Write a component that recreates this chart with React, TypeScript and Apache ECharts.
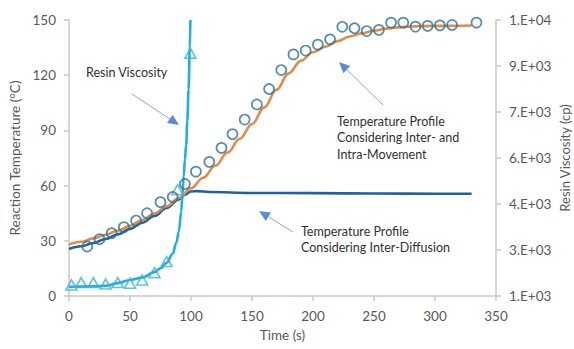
import React, { useEffect, useRef } from "react";
import * as echarts from "echarts";

// Resin viscosity model curve (time s, viscosity cp)
const viscCurveT = [0, 10, 20, 30, 40, 50, 60, 70, 75, 80, 85, 88, 90, 92, 93, 94, 95, 96, 97, 98, 99, 99.5];
const viscCurveV = [1300, 1312, 1318, 1330, 1420, 1522, 1600, 1780, 1900, 2080, 2380, 2740, 3100, 3760, 4300, 4900, 5440, 5920, 6700, 7720, 9100, 10000];

// Resin viscosity measured (triangles)
const viscPtsT = [2, 10, 20, 30, 40, 50, 60, 70, 80, 89, 99.5];
const viscPtsV = [1360, 1438, 1438, 1390, 1438, 1414, 1522, 1762, 2122, 4468, 8920];

// Temperature profile considering inter- and intra-movement (orange)
const intraT = [0, 10, 20, 30, 40, 50, 60, 70, 80, 90, 100, 110, 120, 130, 140, 150, 160, 170, 180, 190, 200, 210, 220, 230, 240, 250, 260, 270, 280, 300, 330];
const intraV = [28, 29.5, 31.3, 33.3, 35.5, 38.2, 41.3, 44.8, 48.8, 53.2, 58.5, 64.3, 70.8, 78, 85.5, 93.5, 102.5, 112, 121, 127.8, 132.5, 135.5, 138.5, 141, 142.8, 144.2, 145.3, 146, 146.5, 146.8, 147];

// Temperature profile considering inter-diffusion (dark blue)
const diffT = [0, 10, 20, 30, 40, 50, 60, 70, 80, 90, 95, 100, 105, 115, 150, 200, 250, 300, 330];
const diffV = [25.5, 27, 28.8, 31, 33.5, 36.5, 39.8, 43.5, 47.8, 52.5, 55, 56.8, 57, 56.5, 56, 55.9, 55.7, 55.6, 55.6];

// Measured reaction temperature (circles)
const tempPtsT = [15, 25, 35, 45, 55, 64, 75, 85, 95, 104, 115, 125, 134, 144, 154, 164, 174, 184, 194, 204, 214, 224, 234, 244, 254, 264, 274, 284, 294, 304, 314, 334];
const tempPtsV = [26.9, 30.9, 34.2, 37.4, 41, 45, 51, 53.8, 60.9, 67.6, 72.9, 80.5, 88, 95.9, 104.1, 112.5, 122.8, 131.3, 133.4, 136.6, 139.5, 146.3, 145.5, 144, 144.6, 148.6, 148.6, 146.4, 146.8, 147.1, 147.3, 148.6];

// Right axis ticks
const rightTickValues = [1000, 2500, 4000, 5500, 7000, 8500, 10000];
const rightTickLabels = ["1.E+03", "3.E+03", "4.E+03", "6.E+03", "7.E+03", "9.E+03", "1.E+04"];

const FONT = "Lato";
const LABEL_COLOR = "#595959";
const AXIS_COLOR = "#c8c8c8";

function zip(t: number[], v: number[]) {
  return t.map((x, i) => [x, v[i]]);
}

function arrow(x1: number, y1: number, x2: number, y2: number) {
  const dx = x2 - x1;
  const dy = y2 - y1;
  const len = Math.sqrt(dx * dx + dy * dy);
  const ux = dx / len;
  const uy = dy / len;
  const headL = 11;
  const headW = 5;
  const bx = x2 - ux * headL;
  const by = y2 - uy * headL;
  const px = -uy * headW;
  const py = ux * headW;
  return [
    {
      type: "line",
      shape: { x1, y1, x2: bx, y2: by },
      style: { stroke: "#8ea9cc", lineWidth: 1 },
    },
    {
      type: "polygon",
      shape: { points: [[x2, y2], [bx + px, by + py], [bx - px, by - py]] },
      style: { fill: "#5b8ed0" },
    },
  ];
}

function annText(x: number, y: number, text: string) {
  return {
    type: "text",
    x,
    y,
    style: {
      text,
      fill: "#303030",
      font: `12.5px ${FONT}`,
      lineHeight: 16.6,
      align: "left",
      verticalAlign: "top",
    },
  };
}

export default function App() {
  const ref = useRef<HTMLDivElement>(null);

  useEffect(() => {
    if (!ref.current) return;
    const chart = echarts.init(ref.current, undefined, { renderer: "svg" });
    const option: any = {
      animation: false,
      backgroundColor: "#ffffff",
      grid: { left: 69, right: 78, top: 20, bottom: 53, containLabel: false, outerBoundsMode: "none" },
      xAxis: {
        type: "value",
        min: 0,
        max: 350,
        interval: 50,
        name: "Time (s)",
        nameLocation: "middle",
        nameGap: 28,
        nameTextStyle: { color: LABEL_COLOR, fontFamily: FONT, fontSize: 13.5 },
        axisLine: { show: true, lineStyle: { color: AXIS_COLOR, width: 1.5 } },
        axisTick: { show: true, length: 5, lineStyle: { color: AXIS_COLOR, width: 1.5 } },
        axisLabel: { color: LABEL_COLOR, fontFamily: FONT, fontSize: 13.5, margin: 13 },
        splitLine: { show: false },
      },
      yAxis: [
        {
          type: "value",
          min: 0,
          max: 150,
          interval: 30,
          name: "Reaction Temperature (\u00B0C)",
          nameLocation: "middle",
          nameRotate: 90,
          nameGap: 45,
          nameTextStyle: { color: LABEL_COLOR, fontFamily: FONT, fontSize: 13.5 },
          axisLine: { show: true, lineStyle: { color: AXIS_COLOR, width: 1.5 } },
          axisTick: { show: true, length: 5, lineStyle: { color: AXIS_COLOR, width: 1.5 } },
          axisLabel: { color: LABEL_COLOR, fontFamily: FONT, fontSize: 13.5, margin: 13 },
          splitLine: { show: false },
        },
        {
          type: "value",
          min: 1000,
          max: 10000,
          interval: 1500,
          position: "right",
          axisLine: { show: true, lineStyle: { color: AXIS_COLOR, width: 1.5 } },
          axisTick: { show: true, length: 5, lineStyle: { color: AXIS_COLOR, width: 1.5 } },
          axisLabel: {
            color: LABEL_COLOR,
            fontFamily: FONT,
            fontSize: 13.5,
            margin: 13,
            formatter: (val: number) => {
              const i = rightTickValues.indexOf(Math.round(val));
              return i >= 0 ? rightTickLabels[i] : "";
            },
          },
          splitLine: { show: false },
        },
      ],
      series: [
        {
          type: "line",
          name: "Inter-Diffusion",
          yAxisIndex: 0,
          data: zip(diffT, diffV),
          smooth: 0.4,
          smoothMonotone: "x",
          showSymbol: false,
          lineStyle: { color: "#1f639e", width: 2.6 },
          z: 2,
        },
        {
          type: "line",
          name: "Inter- and Intra-Movement",
          yAxisIndex: 0,
          data: zip(intraT, intraV),
          smooth: 0.4,
          smoothMonotone: "x",
          showSymbol: false,
          lineStyle: { color: "#e58a45", width: 2.6 },
          z: 3,
        },
        {
          type: "line",
          name: "Resin Viscosity",
          yAxisIndex: 1,
          data: zip(viscCurveT, viscCurveV),
          smooth: 0.4,
          smoothMonotone: "x",
          showSymbol: false,
          lineStyle: { color: "#21aee0", width: 2.6 },
          z: 4,
        },
        {
          type: "scatter",
          name: "Viscosity measured",
          yAxisIndex: 1,
          data: zip(viscPtsT, viscPtsV),
          symbol: "triangle",
          symbolSize: [11, 10],
          itemStyle: { color: "rgba(255,255,255,0)", borderColor: "#3ab4d0", borderWidth: 1.6 },
          z: 5,
        },
        {
          type: "scatter",
          name: "Temperature measured",
          yAxisIndex: 0,
          data: zip(tempPtsT, tempPtsV),
          symbol: "circle",
          symbolSize: 10,
          itemStyle: { color: "rgba(255,255,255,0)", borderColor: "#2d6f98", borderWidth: 1.7 },
          z: 6,
        },
      ],
      graphic: [
        annText(86, 64, "Resin Viscosity"),
        ...arrow(132, 94, 179, 125),
        annText(337, 113, "Temperature Profile\nConsidering Inter- and\nIntra-Movement"),
        ...arrow(383, 105, 339, 62),
        annText(301, 223, "Temperature Profile\nConsidering Inter-Diffusion"),
        ...arrow(293, 232, 259, 211),
        {
          type: "text",
          x: 565,
          y: 158,
          rotation: Math.PI / 2,
          style: {
            text: "Resin Viscosity (cp)",
            fill: LABEL_COLOR,
            font: `13px ${FONT}`,
            align: "center",
            verticalAlign: "middle",
          },
        },
      ],
    };
    chart.setOption(option);
    return () => chart.dispose();
  }, []);

  return (
    <div
      ref={ref}
      style={{ position: "fixed", left: 0, top: 0, width: 574, height: 349, background: "#fff" }}
    />
  );
}
